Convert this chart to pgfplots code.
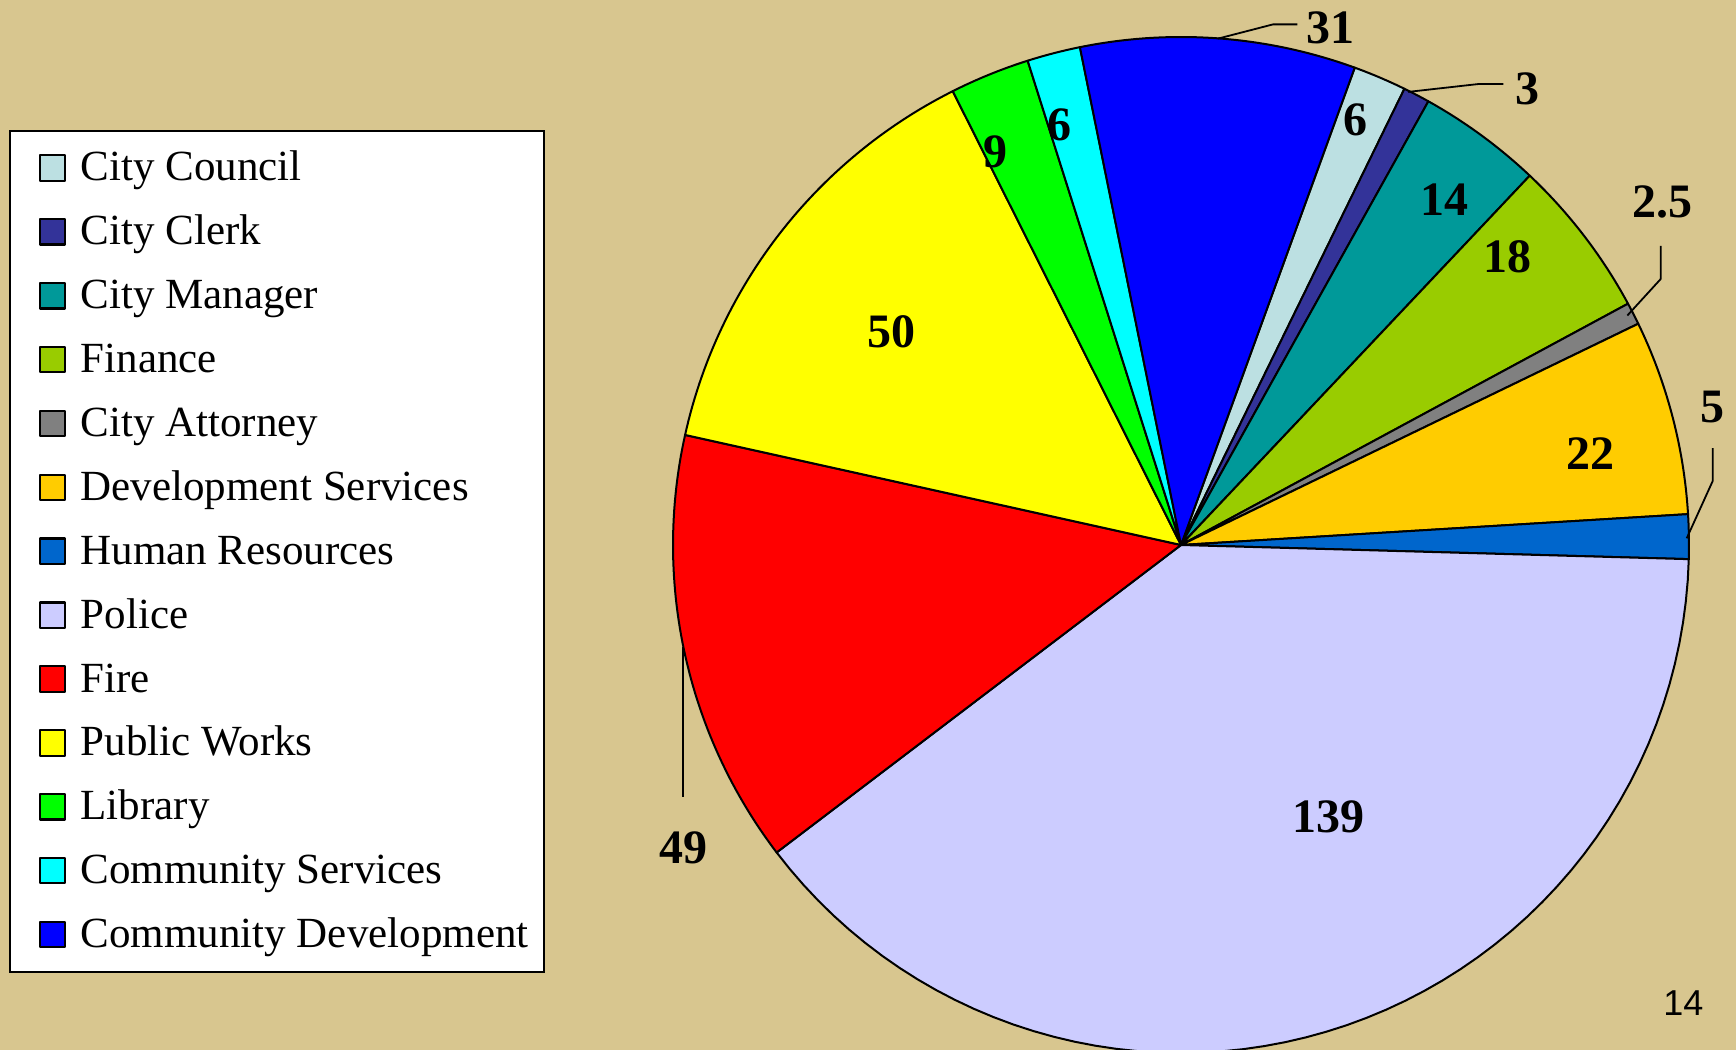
\documentclass[border=0pt]{standalone}
\usepackage{fontspec}
\setmainfont{Liberation Serif}
\newfontfamily\numsans{Liberation Sans}
\usepackage{pgfplots}
\pgfplotsset{compat=1.18}
\definecolor{bg}{HTML}{D8C68F}
\definecolor{cCouncil}{HTML}{BCE0E2}
\definecolor{cClerk}{HTML}{333399}
\definecolor{cManager}{HTML}{009999}
\definecolor{cFinance}{HTML}{99CC00}
\definecolor{cAttorney}{HTML}{808080}
\definecolor{cDevServ}{HTML}{FFCC00}
\definecolor{cHR}{HTML}{0066CC}
\definecolor{cPolice}{HTML}{CCCCFF}
\definecolor{cFire}{HTML}{FF0000}
\definecolor{cPW}{HTML}{FFFF00}
\definecolor{cLib}{HTML}{00FF00}
\definecolor{cCS}{HTML}{00FFFF}
\definecolor{cCD}{HTML}{0000FF}
% slice: #1 = sum of the values before it, #2 = value, #3 = colour; total 354.5, first slice starts at 70 deg, clockwise
\newcommand{\slice}[3]{\addplot[fill=#3, draw=black, line width=1pt, line join=round, domain=70-360*(#1+#2)/354.5:70-360*(#1)/354.5, samples=60, variable=\t] ({cos(\t)},{sin(\t)}) -- (axis cs:0,0) -- cycle;}
\newcommand{\lab}{\fontsize{24}{28}\selectfont\bfseries}
\begin{document}
\begin{tikzpicture}
\fill[bg] (0,0) rectangle (868pt,525pt);
\begin{axis}[
  at={(0pt,0pt)}, anchor=south west,
  x=254pt, y=254pt,
  xmin=-2.3248, xmax=1.0925, ymin=-0.9941, ymax=1.0728,
  hide axis, clip=false,
  legend cell align=left,
  legend image code/.code={\path[draw=none,fill=none] (0pt,0pt) -- (19.9pt,0pt); \draw[#1, line width=1.1pt] (7.2pt,-6.35pt) rectangle (19.9pt,6.35pt);},
  legend style={at={(0.00507,0.8766)}, anchor=north west, draw=black, line width=1pt, fill=white,
    inner xsep=7.8pt, inner ysep=8.2pt, row sep=10.94pt, column sep=7.2pt,
    nodes={inner sep=0pt, text height=17pt, text depth=4pt},
    font=\fontsize{21.5}{25}\selectfont},
]
\slice{0}{6}{cCouncil}
\slice{6}{3}{cClerk}
\slice{9}{14}{cManager}
\slice{23}{18}{cFinance}
\slice{41}{2.5}{cAttorney}
\slice{43.5}{22}{cDevServ}
\slice{65.5}{5}{cHR}
\slice{70.5}{139}{cPolice}
\slice{209.5}{49}{cFire}
\slice{258.5}{50}{cPW}
\slice{308.5}{9}{cLib}
\slice{317.5}{6}{cCS}
\slice{323.5}{31}{cCD}
\legend{City Council, City Clerk, City Manager, Finance, City Attorney, Development Services, Human Resources, Police, Fire, Public Works, Library, Community Services, Community Development}
% leader lines
\draw[line width=0.9pt] (axis cs:0.0724,0.9967) -- (axis cs:0.1811,1.0248) -- (axis cs:0.2293,1.0248);
\draw[line width=0.9pt] (axis cs:0.4472,0.8919) -- (axis cs:0.5846,0.9073) -- (axis cs:0.6346,0.9073);
\draw[line width=0.9pt] (axis cs:0.8787,0.4518) -- (axis cs:0.9443,0.5236) -- (axis cs:0.9443,0.589);
\draw[line width=0.9pt] (axis cs:0.9955,0.0132) -- (axis cs:1.0467,0.1260) -- (axis cs:1.0467,0.1909);
\draw[line width=0.9pt] (axis cs:-0.980,-0.2) -- (axis cs:-0.980,-0.4955);
% value labels
\node[font=\lab] at (axis cs:0.2947,1.0183) {31};
\node[font=\lab] at (axis cs:0.6827,0.8984) {3};
\node[font=\lab] at (axis cs:0.9486,0.6762) {2.5};
\node[font=\lab] at (axis cs:1.0467,0.2709) {5};
\node[font=\lab] at (axis cs:-0.980,-0.5965) {49};
\node[font=\lab] at (axis cs:0.3427,0.8374) {6};
\node[font=\lab] at (axis cs:0.5193,0.6805) {14};
\node[font=\lab] at (axis cs:0.6435,0.5673) {18};
\node[font=\lab] at (axis cs:0.8069,0.1793) {22};
\node[font=\lab] at (axis cs:0.2904,-0.5354) {139};
\node[font=\lab] at (axis cs:-0.5705,0.4191) {50};
\node[font=\lab] at (axis cs:-0.3656,0.7742) {9};
\node[font=\lab] at (axis cs:-0.2392,0.8266) {6};
\node[font=\numsans\fontsize{18}{20}\selectfont] at (axis cs:0.989,-0.9016) {14};
\end{axis}
\pgfresetboundingbox
\useasboundingbox (0,0) rectangle (868pt,525pt);
\end{tikzpicture}
\end{document}
